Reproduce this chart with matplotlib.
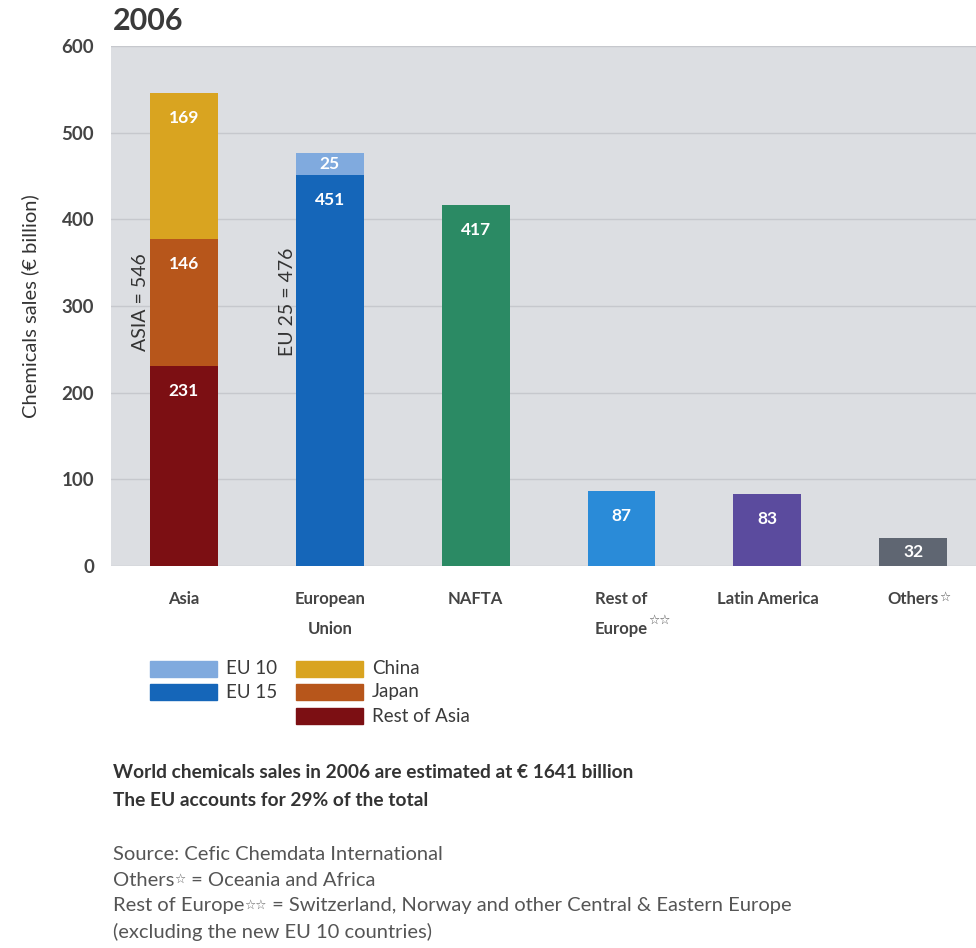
import numpy as np
import matplotlib.pyplot as plt
from matplotlib.patches import Rectangle

plt.rcParams['font.family'] = ['Lato', 'DejaVu Sans']

# Chemicals sales 2006, € billion
regions = ['Asia', 'European\nUnion', 'NAFTA', 'Rest of\nEurope', 'Latin America', 'Others']
region_stars = ['', '', '', '\u2606\u2606', '', '\u2606']
asia_rest = 231
asia_japan = 146
asia_china = 169
eu15 = 451
eu10 = 25
single_vals = [417, 87, 83, 32]   # NAFTA, Rest of Europe, Latin America, Others
single_cols = ['#2b8a64', '#2a8bd8', '#5b4b9e', '#5f6672']

c_rest, c_japan, c_china = '#7c0f13', '#b7561b', '#d9a420'
c_eu15, c_eu10 = '#1566b9', '#80aade'

fig = plt.figure(figsize=(9.76, 9.48), dpi=100)
ax = fig.add_axes([0.1137, 0.403, 0.8863, 0.5485])
ax.set_facecolor('#dcdee2')

x = np.arange(len(regions))
w = 0.465

def label(xc, bottom, h, txt):
    if h < 40:
        ax.text(xc, bottom + h / 2, txt, ha='center', va='center', color='white',
                fontsize=12.5, fontweight='bold')
    else:
        ax.annotate(txt, (xc, bottom + h), xytext=(0, -25), textcoords='offset pixels',
                    ha='center', va='center', color='white', fontsize=12.5, fontweight='bold')

# Asia stack
bottom = 0
for v, c in [(asia_rest, c_rest), (asia_japan, c_japan), (asia_china, c_china)]:
    ax.bar(x[0], v, w, bottom=bottom, color=c, zorder=3)
    label(x[0], bottom, v, str(v))
    bottom += v
asia_total = bottom

# EU stack
ax.bar(x[1], eu15, w, color=c_eu15, zorder=3)
label(x[1], 0, eu15, str(eu15))
ax.bar(x[1], eu10, w, bottom=eu15, color=c_eu10, zorder=3)
label(x[1], eu15, eu10, str(eu10))
eu_total = eu15 + eu10

for xi, v, c in zip(x[2:], single_vals, single_cols):
    ax.bar(xi, v, w, color=c, zorder=3)
    label(xi, 0, v, str(v))

# totals written alongside the stacked bars
ax.text(x[0] - 0.3, 305, f'ASIA = {asia_total}', rotation=90, ha='center', va='center',
        fontsize=14, color='#333333')
ax.text(x[1] - 0.29, 305, f'EU 25 = {eu_total}', rotation=90, ha='center', va='center',
        fontsize=14, color='#333333')

ax.set_xlim(-0.5, 5.43)
ax.set_ylim(0, 600)
ax.set_yticks(range(0, 601, 100))
ax.yaxis.grid(True, color='#c6c8cd', lw=1, zorder=0)
ax.tick_params(axis='y', length=0, pad=12, labelsize=13.5, labelcolor='#444444')
for t in ax.get_yticklabels():
    t.set_fontweight('bold')
ax.set_xticks([])
for s in ax.spines.values():
    s.set_visible(False)
ax.set_ylabel('Chemicals sales (€ billion)', fontsize=14.5, color='#333333', labelpad=16)

# category names under the bars, with small star marks
for xi, name, stars in zip(x, regions, region_stars):
    t = ax.annotate(name, (xi, 0), xytext=(0, -25), textcoords='offset pixels',
                    ha='center', va='top', fontsize=12, color='#444444',
                    fontweight='bold', linespacing=2.05, annotation_clip=False)
    if stars:
        ax.annotate(stars, xy=(1, 0.5 if '\n' in name else 1.0), xycoords=t,
                    ha='left', va='top', fontsize=9, color='#555555',
                    annotation_clip=False)

fig.text(0.116, 0.978, '2006', fontsize=22, fontweight='bold', color='#3a3a3a', va='center')

# legend blocks
legend_items = [
    (150, 669, c_eu10, 'EU 10'), (150, 692, c_eu15, 'EU 15'),
    (296, 669, c_china, 'China'), (296, 692, c_japan, 'Japan'),
    (296, 716, c_rest, 'Rest of Asia'),
]
W, H = 976, 948
for px, py, c, t in legend_items:
    fig.add_artist(Rectangle((px / W, 1 - (py + 8) / H), 67 / W, 16 / H,
                             transform=fig.transFigure, color=c))
    fig.text((px + 76) / W, 1 - py / H, t, fontsize=13.5, color='#3a3a3a', va='center')

notes_main = ['World chemicals sales in 2006 are estimated at € 1641 billion',
              'The EU accounts for 29% of the total']
# (lead text, star marks, rest of the line)
notes_src = [('Source: Cefic Chemdata International', '', ''),
             ('Others', '\u2606', ' = Oceania and Africa'),
             ('Rest of Europe', '\u2606\u2606',
              ' = Switzerland, Norway and other Central & Eastern Europe'),
             ('(excluding the new EU 10 countries)', '', '')]
for i, t in enumerate(notes_main):
    fig.text(113 / W, 1 - (773 + 28 * i) / H, t, fontsize=13.8, color='#333333',
             fontweight='bold', va='center')
for i, (lead, stars, rest) in enumerate(notes_src):
    t1 = fig.text(113 / W, 1 - (855 + 25.5 * i) / H, lead, fontsize=14.5,
                  color='#555555', va='center')
    if stars:
        t2 = fig.add_artist(plt.Annotation(stars, xy=(1, 0.95), xycoords=t1, ha='left',
                                           va='top', fontsize=9, color='#666666'))
        fig.add_artist(plt.Annotation(rest, xy=(1, 0.5), xycoords=(t2, t1), ha='left',
                                      va='center', fontsize=14.5, color='#555555'))

fig.savefig('out.png', dpi=100)
